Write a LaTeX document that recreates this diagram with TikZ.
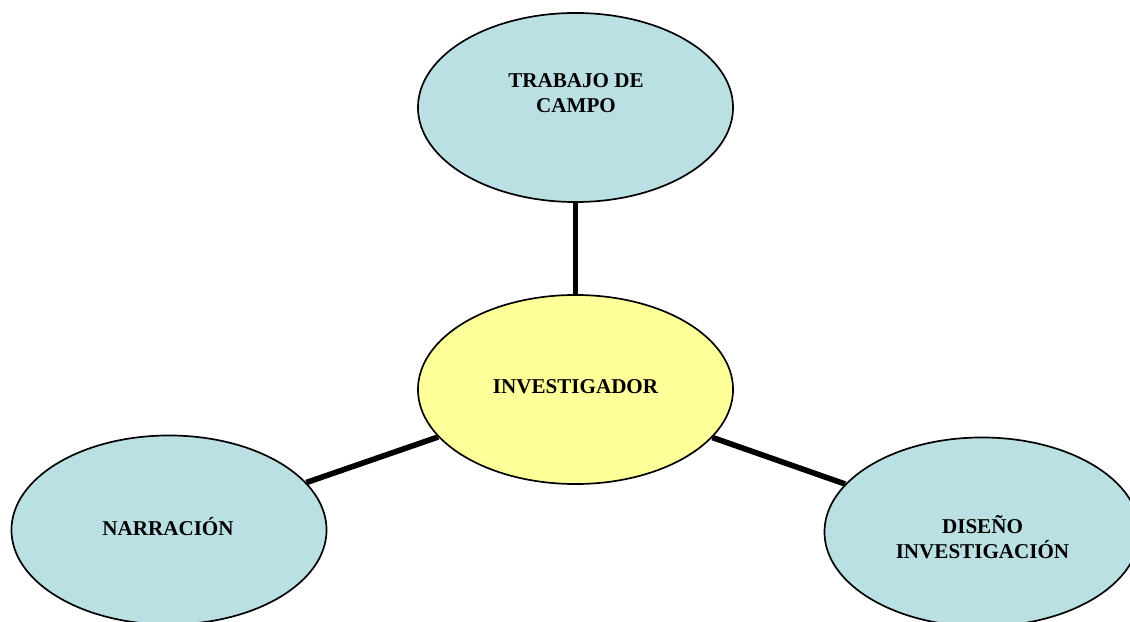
\documentclass[tikz,border=0pt]{standalone}
\usepackage{fontspec}
\setmainfont{Liberation Serif}
\usetikzlibrary{shapes.geometric}
\definecolor{azulpalido}{RGB}{187,224,227}
\definecolor{amarillopalido}{RGB}{255,255,153}
\tikzset{
  burbuja/.style={ellipse, draw=black, line width=1.2pt, inner sep=0pt,
    minimum width=7.875cm, minimum height=4.725cm},
  etiqueta/.style={font=\fontsize{15}{17.5}\selectfont\bfseries, align=center, inner sep=0pt},
  enlace/.style={line width=4pt}
}
\begin{document}
\begin{tikzpicture}[x=0.025cm,y=-0.025cm]
    \useasboundingbox (0,0) rectangle (1130,622);
    % globos
    \node[burbuja, fill=azulpalido] (campo) at (575.5,107.5) {};
    \node[burbuja, fill=amarillopalido] (investigador) at (575.5,389.5) {};
    \node[burbuja, fill=azulpalido] (narracion) at (169,530) {};
    \node[burbuja, fill=azulpalido] (diseno) at (982,532) {};
    % enlaces
    \draw[enlace] (campo) -- (investigador);
    \draw[enlace] (investigador) -- (narracion);
    \draw[enlace] (investigador) -- (diseno);
    % textos
    \node[etiqueta] (txt-campo) at (576,93) {TRABAJO DE\\CAMPO};
    \node[etiqueta] (txt-investigador) at (575.5,387) {INVESTIGADOR};
    \node[etiqueta] (txt-narracion) at (168,526.5) {NARRACIÓN};
    \node[etiqueta] (txt-diseno) at (982.5,537) {DISEÑO\\INVESTIGACIÓN};
\end{tikzpicture}
\end{document}
